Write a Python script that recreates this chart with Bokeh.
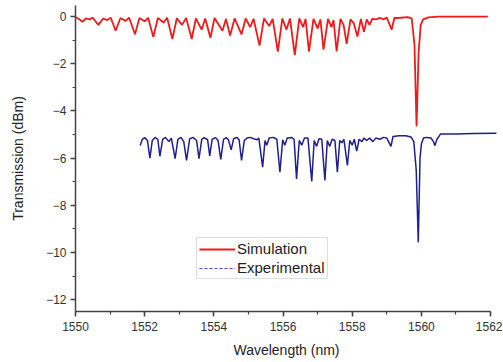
from bokeh.plotting import figure
from bokeh.models import Range1d, SingleIntervalTicker, Legend, LegendItem
from bokeh.embed import file_html
from bokeh.resources import INLINE

# Simulation spectrum (wavelength nm, transmission dBm)
sim_wavelength = [
    1550.00, 1550.10, 1550.20, 1550.30, 1550.40, 1550.50, 1550.66, 1550.80, 1550.92, 1551.02,
    1551.16, 1551.30, 1551.45, 1551.55, 1551.72, 1551.85, 1552.00, 1552.10, 1552.25, 1552.38,
    1552.55, 1552.65, 1552.80, 1552.93, 1553.08, 1553.20, 1553.36, 1553.48, 1553.65, 1553.75,
    1553.90, 1554.02, 1554.25, 1554.35, 1554.47, 1554.60, 1554.80, 1554.92, 1555.05, 1555.15,
    1555.32, 1555.45, 1555.60, 1555.70, 1555.85, 1555.98, 1556.10, 1556.20, 1556.34, 1556.47,
    1556.58, 1556.65, 1556.75, 1556.88, 1557.00, 1557.08, 1557.17, 1557.30, 1557.40, 1557.46,
    1557.55, 1557.66, 1557.75, 1557.84, 1557.95, 1558.05, 1558.15, 1558.25, 1558.34, 1558.42,
    1558.50, 1558.58, 1558.70, 1558.80, 1558.90, 1559.00, 1559.14, 1559.22, 1559.40, 1559.60,
    1559.72, 1559.80, 1559.86, 1559.92, 1559.98, 1560.05, 1560.20, 1560.50, 1561.92,
]
sim_transmission = [
    -0.02, -0.10, -0.22, -0.08, -0.12, -0.05, -0.35, -0.08, -0.15, -0.05,
    -0.60, -0.06, -0.18, -0.05, -0.75, -0.06, -0.20, -0.05, -0.87, -0.06,
    -0.25, -0.05, -0.95, -0.07, -0.35, -0.06, -0.95, -0.08, -0.55, -0.08,
    -0.90, -0.06, -0.60, -0.10, -0.80, -0.08, -0.75, -0.08, -0.45, -0.10,
    -1.23, -0.08, -0.40, -0.10, -1.48, -0.08, -0.55, -0.08, -1.63, -0.08,
    -0.45, -0.10, -1.48, -0.10, -0.50, -0.12, -1.40, -0.10, -0.45, -0.15,
    -1.48, -0.10, -0.35, -1.16, -0.12, -0.30, -0.85, -0.10, -0.65, -0.12,
    -0.35, -0.10, -0.12, -0.05, -0.12, -0.04, -0.55, -0.06, -0.05, -0.02,
    -0.08, -1.20, -4.65, -1.50, -0.35, -0.12, -0.03, 0.00, 0.00,
]

# Experimental spectrum
exp_wavelength = [
    1551.87, 1551.93, 1552.00, 1552.08, 1552.15, 1552.22, 1552.30, 1552.38, 1552.44, 1552.52,
    1552.60, 1552.70, 1552.77, 1552.88, 1552.96, 1553.05, 1553.13, 1553.21, 1553.30, 1553.40,
    1553.50, 1553.57, 1553.65, 1553.72, 1553.82, 1553.88, 1553.95, 1554.05, 1554.12, 1554.20,
    1554.28, 1554.36, 1554.42, 1554.50, 1554.57, 1554.66, 1554.73, 1554.80, 1554.88, 1554.96,
    1555.05, 1555.15, 1555.25, 1555.30, 1555.41, 1555.48, 1555.53, 1555.60, 1555.72, 1555.82,
    1555.91, 1555.99, 1556.05, 1556.12, 1556.25, 1556.32, 1556.39, 1556.47, 1556.54, 1556.62,
    1556.72, 1556.83, 1556.90, 1556.97, 1557.04, 1557.12, 1557.21, 1557.28, 1557.35, 1557.42,
    1557.50, 1557.57, 1557.64, 1557.70, 1557.76, 1557.86, 1557.93, 1558.00, 1558.06, 1558.13,
    1558.20, 1558.28, 1558.34, 1558.42, 1558.50, 1558.60, 1558.68, 1558.80, 1558.90, 1559.00,
    1559.12, 1559.18, 1559.35, 1559.55, 1559.70, 1559.78, 1559.85, 1559.91, 1559.96, 1560.00,
    1560.06, 1560.15, 1560.28, 1560.35, 1560.39, 1560.45, 1560.55, 1561.00, 1561.50, 1562.17,
]
exp_transmission = [
    -5.47, -5.20, -5.13, -5.25, -6.00, -5.25, -5.12, -5.20, -5.92, -5.20,
    -5.12, -5.30, -5.15, -6.02, -5.20, -5.12, -5.30, -6.10, -5.18, -5.12,
    -5.25, -6.02, -5.20, -5.13, -5.22, -5.90, -5.20, -5.13, -5.25, -6.05,
    -5.20, -5.13, -5.22, -5.65, -5.18, -5.12, -5.22, -6.10, -5.25, -5.15,
    -5.12, -5.18, -5.22, -5.15, -6.38, -5.25, -5.45, -5.15, -5.12, -5.20,
    -6.60, -5.22, -5.45, -5.15, -5.12, -5.20, -6.88, -5.25, -5.45, -5.15,
    -5.15, -6.99, -5.25, -5.50, -5.18, -5.20, -6.95, -5.25, -5.50, -5.20,
    -5.25, -6.60, -5.25, -5.35, -5.20, -6.31, -5.25, -5.45, -5.20, -5.70,
    -5.20, -5.30, -5.15, -5.25, -5.15, -5.30, -5.15, -5.20, -5.12, -5.15,
    -5.50, -5.08, -5.05, -5.05, -5.10, -5.30, -6.50, -9.56, -6.00, -5.40,
    -5.15, -5.12, -5.15, -5.30, -5.47, -5.20, -4.98, -4.98, -4.96, -4.95,
]

series_labels = ["Simulation", "Experimental"]
x_label = "Wavelength (nm)"
y_label = "Transmission (dBm)"

FONT = "Liberation Sans"
NAN = float("nan")

p = figure(
    output_backend="svg", toolbar_location=None,
    frame_width=422, frame_height=306,
    min_border_left=75, min_border_right=5, min_border_top=5, min_border_bottom=50,
    x_range=Range1d(1550, 1562.2), y_range=Range1d(-12.5, 0.47),
)
p.outline_line_color = None
p.grid.visible = False
p.background_fill_color = "white"
p.border_fill_color = "white"

for ax in (p.xaxis[0], p.yaxis[0]):
    ax.ticker = SingleIntervalTicker(interval=2, num_minor_ticks=2)
    ax.axis_line_color = "#444444"
    ax.axis_line_width = 1.5
    ax.major_tick_line_color = "#444444"
    ax.minor_tick_line_color = "#444444"
    ax.major_tick_line_width = 1.5
    ax.minor_tick_line_width = 1.2
    ax.major_tick_out = 5
    ax.major_tick_in = 0
    ax.minor_tick_out = 3
    ax.minor_tick_in = 0
    ax.major_label_text_font = FONT
    ax.major_label_text_font_size = "12px"
    ax.major_label_text_color = "#333333"
    ax.axis_label_text_font = FONT
    ax.axis_label_text_font_size = "14px"
    ax.axis_label_text_font_style = "normal"
    ax.axis_label_text_color = "#222222"

p.xaxis[0].bounds = (1550, 1562)
p.xaxis[0].axis_label = x_label
p.xaxis[0].major_label_standoff = 5
p.xaxis[0].axis_label_standoff = 8
p.yaxis[0].axis_label = y_label
p.yaxis[0].major_label_standoff = 4
p.yaxis[0].axis_label_standoff = 17

r_sim = p.line(sim_wavelength, sim_transmission, line_color="#f01a1a", line_width=1.8)
r_exp = p.line(exp_wavelength, exp_transmission, line_color="#1f1f8f", line_width=1.5)
# legend-only sample for the dashed experimental entry (no visible data)
r_exp_leg = p.line([NAN, NAN], [NAN, NAN], line_color="#4b4bc4", line_width=1.2, line_dash="3 2")

legend = Legend(
    items=[LegendItem(label=series_labels[0], renderers=[r_sim]),
           LegendItem(label=series_labels[1], renderers=[r_exp_leg])],
    location=(121, 32),
    label_text_font=FONT, label_text_font_size="15px", label_text_color="#222222",
    glyph_width=36, glyph_height=14, label_height=14, label_standoff=2,
    spacing=2, padding=2, margin=0,
    border_line_color="#bbbbbb", border_line_width=1,
    background_fill_color="white", background_fill_alpha=1.0,
)
p.add_layout(legend, "center")

open("out.html", "w").write(file_html(p, INLINE))
